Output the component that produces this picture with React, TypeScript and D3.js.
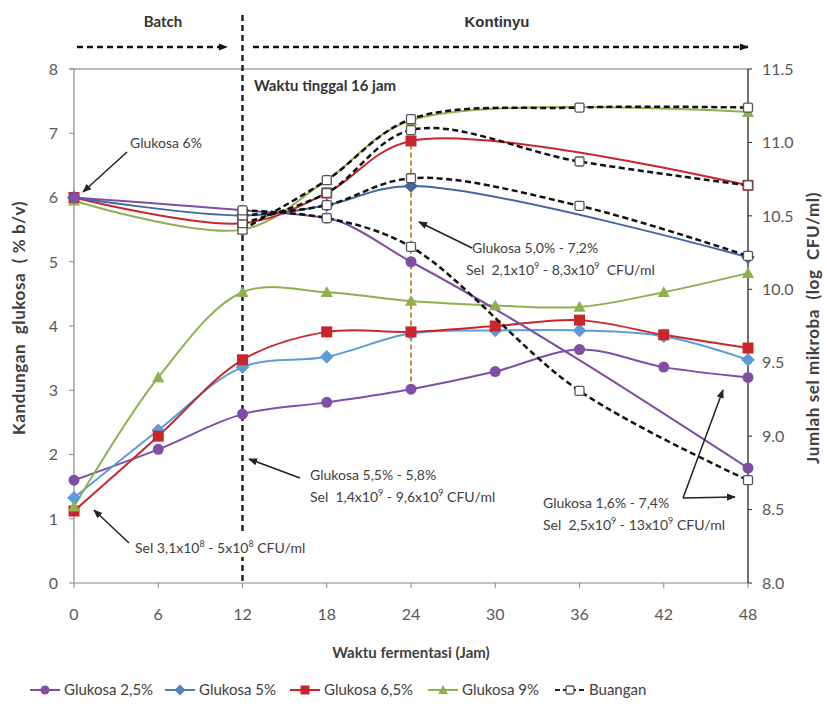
import React from "react";
import * as d3 from "d3";

// Sampling times (hours)
const hoursCells = [0, 6, 12, 18, 24, 30, 36, 42, 48];
const hoursGlucose = [0, 12, 18, 24, 48];
const hoursOutflow = [12, 18, 24, 36, 48];

// Cell counts, log CFU/ml (right axis)
const cellPurple = [8.7, 8.91, 9.15, 9.23, 9.32, 9.44, 9.59, 9.47, 9.4];
const cellBlue = [8.58, 9.04, 9.47, 9.54, 9.7, 9.72, 9.72, 9.68, 9.52];
const cellRed = [8.49, 9.0, 9.52, 9.71, 9.71, 9.75, 9.79, 9.69, 9.6];
const cellGreen = [8.52, 9.4, 9.98, 9.98, 9.92, 9.89, 9.88, 9.98, 10.11];

// Glucose in the fermenter, % b/v (left axis)
const gluPurple = [6.0, 5.8, 5.68, 5.0, 1.79];
const gluBlue = [6.0, 5.72, 5.88, 6.18, 5.07];
const gluRed = [6.0, 5.6, 6.07, 6.88, 6.19];
const gluGreen = [5.95, 5.5, 6.27, 7.2, 7.33];

// Glucose in the outflow (Buangan), % b/v (left axis)
const outPurple = [5.8, 5.68, 5.23, 2.99, 1.6];
const outBlue = [5.72, 5.88, 6.3, 5.87, 5.09];
const outRed = [5.6, 6.07, 7.05, 6.56, 6.19];
const outGreen = [5.5, 6.27, 7.22, 7.4, 7.4];

const legendLabels = ["Glukosa 2,5%", "Glukosa 5%", "Glukosa 6,5%", "Glukosa 9%", "Buangan"];
const leftTicks = [0, 1, 2, 3, 4, 5, 6, 7, 8];
const rightTicks = [8.0, 8.5, 9.0, 9.5, 10.0, 10.5, 11.0, 11.5];
const xTicks = [0, 6, 12, 18, 24, 30, 36, 42, 48];

const W = 827;
const H = 706;
const PLOT = { left: 74, right: 748, top: 69, bottom: 583 };
const FONT = "Lato, 'Open Sans', sans-serif";
const TXT = "#404040";

const C = {
  purple: "#7e4fa5",
  blueCell: "#5d9bd6",
  blueGlu: "#3f68a0",
  red: "#c9262c",
  green: "#8fb04f",
};

type Shape = "circle" | "diamond" | "square" | "triangle" | "open";

function Marker({ shape, cx, cy, s, color }: { shape: Shape; cx: number; cy: number; s: number; color: string }) {
  if (shape === "circle") return <circle cx={cx} cy={cy} r={s / 2} fill={color} />;
  if (shape === "square") return <rect x={cx - s / 2} y={cy - s / 2} width={s} height={s} fill={color} />;
  if (shape === "diamond") {
    const h = s * 0.62;
    return <path d={`M${cx},${cy - h}L${cx + h},${cy}L${cx},${cy + h}L${cx - h},${cy}Z`} fill={color} />;
  }
  if (shape === "triangle") {
    const h = s * 0.55;
    return <path d={`M${cx},${cy - h}L${cx + h},${cy + h * 0.8}L${cx - h},${cy + h * 0.8}Z`} fill={color} />;
  }
  return (
    <rect x={cx - s / 2} y={cy - s / 2} width={s} height={s} rx={1.5} fill="#fff" stroke="#555" strokeWidth={1.3} />
  );
}

export default function App() {
  const x = d3.scaleLinear().domain([0, 48]).range([PLOT.left, PLOT.right]);
  const yL = d3.scaleLinear().domain([0, 8]).range([PLOT.bottom, PLOT.top]);
  const yR = d3.scaleLinear().domain([8, 11.5]).range([PLOT.bottom, PLOT.top]);

  const smooth = d3.curveCatmullRom.alpha(0.5);
  const lineOf = (xs: number[], ys: number[], y: d3.ScaleLinear<number, number>, curve: d3.CurveFactory) =>
    d3
      .line<number>()
      .x((_, i) => x(xs[i]))
      .y((v) => y(v))
      .curve(curve)(ys) as string;

  const cells = [
    { v: cellPurple, color: C.purple, shape: "circle" as Shape },
    { v: cellBlue, color: C.blueCell, shape: "diamond" as Shape },
    { v: cellRed, color: C.red, shape: "square" as Shape },
    { v: cellGreen, color: C.green, shape: "triangle" as Shape },
  ];
  const glucose = [
    { v: gluGreen, color: C.green, shape: "triangle" as Shape, curve: smooth },
    { v: gluRed, color: C.red, shape: "square" as Shape, curve: smooth },
    { v: gluBlue, color: C.blueGlu, shape: "diamond" as Shape, curve: smooth },
    { v: gluPurple, color: C.purple, shape: "circle" as Shape, curve: d3.curveMonotoneX },
  ];
  const outflow = [outGreen, outRed, outBlue, outPurple];

  const legendItems = [
    { x0: 30, color: C.purple, shape: "circle" as Shape, dashed: false },
    { x0: 165, color: "#4f81bd", shape: "diamond" as Shape, dashed: false },
    { x0: 290, color: C.red, shape: "square" as Shape, dashed: false },
    { x0: 428, color: C.green, shape: "triangle" as Shape, dashed: false },
    { x0: 555, color: "#222", shape: "open" as Shape, dashed: true },
  ];

  const sup = (t: string) => (
    <tspan fontSize={9} dy={-6}>
      {t}
    </tspan>
  );
  const base = (t: string) => <tspan dy={6}>{t}</tspan>;

  return (
    <svg
      width={W}
      height={H}
      viewBox={`0 0 ${W} ${H}`}
      style={{ position: "absolute", left: 0, top: 0, background: "#fff" }}
      fontFamily={FONT}
    >
      <defs>
        <marker id="ah" viewBox="0 0 10 10" refX="9" refY="5" markerUnits="userSpaceOnUse" markerWidth="10" markerHeight="9" orient="auto">
          <path d="M0,1L10,5L0,9Z" fill="#111" />
        </marker>
        <marker id="ah2" viewBox="0 0 10 10" refX="9" refY="5" markerWidth="6" markerHeight="6" orient="auto">
          <path d="M0,1L10,5L0,9Z" fill="#222" />
        </marker>
      </defs>

      {/* Phase arrows */}
      <text x={163} y={27} textAnchor="middle" fontSize={15} fontWeight={700} fill="#333">
        Batch
      </text>
      <text x={497} y={27} textAnchor="middle" fontSize={15} fontWeight={700} fill="#333" fontFamily="'Liberation Sans', Arial, sans-serif">
        Kontinyu
      </text>
      <line x1={77} y1={47} x2={227} y2={47} stroke="#111" strokeWidth={2.5} strokeDasharray="6,4" markerEnd="url(#ah)" />
      <line x1={253} y1={47} x2={748} y2={47} stroke="#111" strokeWidth={2.5} strokeDasharray="6,4" markerEnd="url(#ah)" />

      {/* Frame and axes */}
      <line x1={PLOT.left - 4} y1={PLOT.top} x2={PLOT.right} y2={PLOT.top} stroke="#777" strokeWidth={1.2} />
      <line x1={PLOT.left} y1={PLOT.top} x2={PLOT.left} y2={PLOT.bottom} stroke="#888" strokeWidth={1.2} />
      <line x1={PLOT.left} y1={PLOT.bottom} x2={PLOT.right} y2={PLOT.bottom} stroke="#888" strokeWidth={1.2} />
      <line x1={PLOT.right} y1={PLOT.top} x2={PLOT.right} y2={PLOT.bottom} stroke="#222" strokeWidth={1.3} />

      {leftTicks.map((t) => (
        <g key={"l" + t}>
          <line x1={PLOT.left - 5} x2={PLOT.left} y1={yL(t)} y2={yL(t)} stroke="#888" />
          <text x={58} y={yL(t)} dy="0.36em" textAnchor="end" fontSize={16} fill="#595959">
            {t}
          </text>
        </g>
      ))}
      {rightTicks.map((t) => (
        <g key={"r" + t}>
          <line x1={PLOT.right} x2={PLOT.right + 4} y1={yR(t)} y2={yR(t)} stroke="#222" />
          <text x={762} y={yR(t)} dy="0.36em" textAnchor="start" fontSize={16} fill="#595959">
            {d3.format(".1f")(t)}
          </text>
        </g>
      ))}
      {xTicks.map((t) => (
        <g key={"x" + t}>
          <line x1={x(t)} x2={x(t)} y1={PLOT.bottom} y2={PLOT.bottom + 5} stroke="#888" />
          <text x={x(t)} y={620} textAnchor="middle" fontSize={16} fill="#595959">
            {t}
          </text>
        </g>
      ))}

      {/* Axis titles */}
      <text x={411} y={658} textAnchor="middle" fontSize={15} fontWeight={700} fill={TXT}>
        Waktu fermentasi (Jam)
      </text>
      <text
        transform={`translate(25,${318}) rotate(-90)`}
        textAnchor="middle"
        fontSize={17}
        fontWeight={700}
        fill={TXT}
        letterSpacing={0.6}
        style={{ whiteSpace: "pre" }}
      >
        {"Kandungan  glukosa  ( % b/v)"}
      </text>
      <text
        transform={`translate(819,${328}) rotate(-90)`}
        textAnchor="middle"
        fontSize={17}
        fontWeight={700}
        fill={TXT}
        letterSpacing={0.6}
        style={{ whiteSpace: "pre" }}
      >
        {"Jumlah sel mikroba  (log  CFU/ml)"}
      </text>

      {/* Batch / continuous boundary and residence-time marker */}
      <line x1={x(12)} y1={15} x2={x(12)} y2={PLOT.bottom} stroke="#222" strokeWidth={2.5} strokeDasharray="6,4" />
      <line x1={x(24)} y1={yL(7.2)} x2={x(24)} y2={yR(9.32)} stroke="#c49234" strokeWidth={2} strokeDasharray="5,3" />
      <text x={254} y={91} fontSize={15} fontWeight={700} fill="#333">
        Waktu tinggal 16 jam
      </text>

      {/* Cell count curves */}
      {cells.map((s, k) => (
        <path key={"cl" + k} d={lineOf(hoursCells, s.v, yR, smooth)} fill="none" stroke={s.color} strokeWidth={2} />
      ))}
      {/* Glucose curves */}
      {glucose.map((s, k) => (
        <path key={"gl" + k} d={lineOf(hoursGlucose, s.v, yL, s.curve)} fill="none" stroke={s.color} strokeWidth={2} />
      ))}
      {cells.map((s, k) =>
        s.v.map((v, i) => <Marker key={`cm${k}-${i}`} shape={s.shape} cx={x(hoursCells[i])} cy={yR(v)} s={11} color={s.color} />)
      )}
      {glucose.map((s, k) =>
        s.v.map((v, i) => <Marker key={`gm${k}-${i}`} shape={s.shape} cx={x(hoursGlucose[i])} cy={yL(v)} s={11} color={s.color} />)
      )}
      {/* Outflow glucose */}
      {outflow.map((v, k) => (
        <path key={"ol" + k} d={lineOf(hoursOutflow, v, yL, smooth)} fill="none" stroke="#111" strokeWidth={2.5} strokeDasharray="6,3.5" />
      ))}
      {outflow.map((s, k) =>
        s.map((v, i) => <Marker key={`om${k}-${i}`} shape="open" cx={x(hoursOutflow[i])} cy={yL(v)} s={9} color="#555" />)
      )}

      {/* Annotations */}
      <g fontSize={14} fill={TXT}>
        <text x={130} y={148}>Glukosa 6%</text>
        <line x1={127} y1={152} x2={83} y2={192} stroke="#222" strokeWidth={1.5} markerEnd="url(#ah2)" />

        <text x={472} y={253}>Glukosa 5,0% - 7,2%</text>
        <text x={466} y={275} style={{ whiteSpace: "pre" }}>
          {"Sel  2,1x10"}
          {sup("9")}
          {base(" - 8,3x10")}
          {sup("9")}
          {base("  CFU/ml")}
        </text>
        <line x1={472} y1={248} x2={419} y2={222} stroke="#222" strokeWidth={1.5} markerEnd="url(#ah2)" />

        <rect x={306} y={462} width={200} height={42} fill="#fff" />
        <text x={310} y={480}>Glukosa 5,5% - 5,8%</text>
        <text x={310} y={502} style={{ whiteSpace: "pre" }}>
          {"Sel  1,4x10"}
          {sup("9")}
          {base(" - 9,6x10")}
          {sup("9")}
          {base(" CFU/ml")}
        </text>
        <line x1={300} y1={478} x2={249} y2={459} stroke="#222" strokeWidth={1.5} markerEnd="url(#ah2)" />

        <rect x={132} y={533} width={178} height={24} fill="#fff" />
        <text x={135} y={553}>
          {"Sel 3,1x10"}
          {sup("8")}
          {base(" - 5x10")}
          {sup("8")}
          {base(" CFU/ml")}
        </text>
        <line x1={129} y1={543} x2={94} y2={510} stroke="#222" strokeWidth={1.5} markerEnd="url(#ah2)" />

        <text x={543} y={508}>Glukosa 1,6% - 7,4%</text>
        <text x={543} y={530} style={{ whiteSpace: "pre" }}>
          {"Sel  2,5x10"}
          {sup("9")}
          {base(" - 13x10")}
          {sup("9")}
          {base(" CFU/ml")}
        </text>
        <line x1={683} y1={498} x2={723} y2={390} stroke="#222" strokeWidth={1.5} markerEnd="url(#ah2)" />
        <line x1={683} y1={498} x2={735} y2={497} stroke="#222" strokeWidth={1.5} markerEnd="url(#ah2)" />
      </g>

      {/* Legend */}
      {legendItems.map((it, k) => (
        <g key={"lg" + k}>
          <line
            x1={it.x0}
            x2={it.x0 + 30}
            y1={690}
            y2={690}
            stroke={it.color}
            strokeWidth={2}
            strokeDasharray={it.dashed ? "5,3" : undefined}
          />
          <Marker shape={it.shape} cx={it.x0 + 15} cy={690} s={it.shape === "open" ? 8 : 9} color={it.color} />
          <text x={it.x0 + 34} y={690} dy="0.36em" fontSize={15} fill={TXT}>
            {legendLabels[k]}
          </text>
        </g>
      ))}
    </svg>
  );
}
